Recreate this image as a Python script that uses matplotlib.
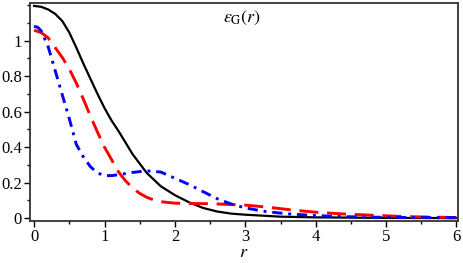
import numpy as np
import matplotlib
matplotlib.use('Agg')
import matplotlib.pyplot as plt
from matplotlib.ticker import MultipleLocator

plt.rcParams['font.family'] = 'serif'
plt.rcParams['font.serif'] = ['Liberation Serif', 'DejaVu Serif']
plt.rcParams['mathtext.fontset'] = 'stix'

# curve values
r_black = [0, 0.1, 0.2, 0.3, 0.4, 0.5, 0.6, 0.7, 0.8, 0.9, 1.0, 1.1, 1.2, 1.4, 1.6, 1.8,
           2.0, 2.2, 2.4, 2.6, 2.8, 3.0, 3.5, 4.0, 5.0, 6.0]
y_black = [1.195, 1.19, 1.175, 1.15, 1.11, 1.045, 0.96, 0.87, 0.785, 0.70, 0.62, 0.55,
           0.49, 0.36, 0.255, 0.18, 0.13, 0.09, 0.058, 0.038, 0.026, 0.02, 0.009,
           0.005, 0.002, 0.001]

r_red = [0, 0.1, 0.2, 0.3, 0.4, 0.5, 0.6, 0.7, 0.8, 0.9, 1.0, 1.1, 1.2, 1.3, 1.4, 1.5,
         1.6, 1.7, 1.8, 2.0, 2.2, 2.5, 3.0, 3.3, 3.7, 4.0, 4.4, 4.8, 5.3, 6.0]
y_red = [1.058, 1.045, 1.015, 0.96, 0.905, 0.84, 0.76, 0.67, 0.575, 0.485, 0.40, 0.33,
         0.26, 0.21, 0.17, 0.14, 0.118, 0.103, 0.093, 0.085, 0.083, 0.082, 0.074, 0.063,
         0.045, 0.034, 0.024, 0.017, 0.009, 0.004]

r_blue = [0, 0.05, 0.1, 0.2, 0.3, 0.4, 0.5, 0.6, 0.7, 0.8, 0.9, 1.0, 1.1, 1.2, 1.4,
          1.6, 1.8, 2.0, 2.2, 2.4, 2.6, 2.8, 3.0, 3.3, 3.6, 4.0, 4.4, 5.0, 6.0]
y_blue = [1.08, 1.075, 1.055, 0.965, 0.83, 0.695, 0.56, 0.415, 0.345, 0.29, 0.255, 0.24,
          0.24, 0.245, 0.258, 0.267, 0.26, 0.225, 0.19, 0.15, 0.11, 0.08, 0.058, 0.037,
          0.025, 0.015, 0.009, 0.005, 0.003]

fig = plt.figure(figsize=(4.63, 2.63), dpi=100)
ax = fig.add_axes([0.065, 0.16, 0.924, 0.829])

ax.plot(r_black, y_black, color='black', lw=1.6)
ax.plot(r_red, y_red, color='red', lw=2.1, dashes=(6.5, 3))
ax.plot(r_blue, y_blue, color='blue', lw=2.1, dashes=(3.5, 2, 1, 2))

ax.set_xlim(-0.057, 6.02)
ax.set_ylim(-0.015, 1.212)
ax.xaxis.set_major_locator(MultipleLocator(1))
ax.xaxis.set_minor_locator(MultipleLocator(0.5))
ax.yaxis.set_minor_locator(MultipleLocator(0.1))
ax.set_yticks([0, 0.2, 0.4, 0.6, 0.8, 1.0])
ax.set_yticklabels(['0', '0.2', '0.4', '0.6', '0.8', '1'])

for s in ax.spines.values():
    s.set_linewidth(1.3)
    s.set_color('#333333')
ax.tick_params(which='major', direction='out', length=4, width=1, labelsize=12, pad=2)
ax.tick_params(which='minor', direction='out', length=2.5, width=1)

ax.set_xlabel(r'$r$', fontsize=13, labelpad=-1)
ax.text(0.45, 0.93, r'$\varepsilon_{\mathrm{G}}(r)$', transform=ax.transAxes,
        fontsize=13, ha='left', va='center')

fig.savefig('out.png', dpi=100)
plt.close(fig)
